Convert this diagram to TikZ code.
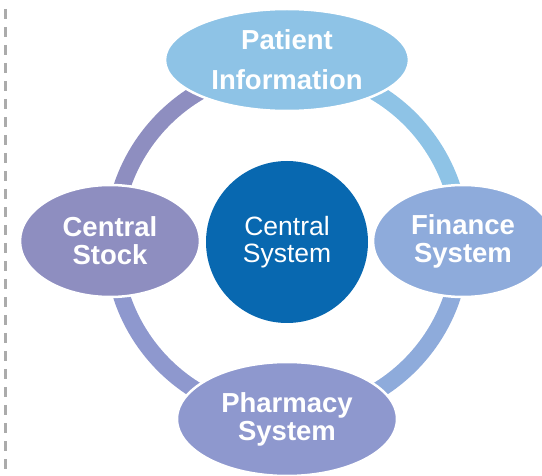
\documentclass[tikz,border=0pt]{standalone}
\usepackage{fontspec}
\setmainfont{Liberation Sans}
\usepackage{tikz}
\usetikzlibrary{shapes.geometric}

\definecolor{hubblue}{HTML}{0868B0}
\definecolor{patientcol}{HTML}{8EC3E6}
\definecolor{financecol}{HTML}{8EABDB}
\definecolor{pharmacycol}{HTML}{8E98CE}
\definecolor{stockcol}{HTML}{8E8EC0}

\begin{document}
\begin{tikzpicture}[x=1pt,y=1pt,hub/.style={circle, fill=hubblue, text=white, inner sep=0pt, minimum size=162pt, align=center, font=\fontsize{26.5}{27}\selectfont},module/.style={ellipse, draw=white, line width=2.5pt, text=white, inner sep=0pt, align=center, font=\fontsize{27.5}{28}\selectfont\bfseries},ringseg/.style={line width=17pt}]
                \useasboundingbox (0,0) rectangle (542,475);
                \clip (0,0) rectangle (542,475);
                \draw[black!33, line width=2.5pt, dash pattern=on 10pt off 8pt] (5.5,466) -- (5.5,0);
                % ring between the modules
                \coordinate (ringtop) at (287,407);
                \coordinate (ringright) at (461,233);
                \coordinate (ringbottom) at (287,59);
                \coordinate (ringleft) at (113,233);
                \draw[ringseg, draw=stockcol] (ringtop) arc[start angle=90, end angle=180, radius=174];
                \draw[ringseg, draw=pharmacycol] (ringleft) arc[start angle=180, end angle=270, radius=174];
                \draw[ringseg, draw=financecol] (ringbottom) arc[start angle=270, end angle=360, radius=174];
                \draw[ringseg, draw=patientcol] (ringright) arc[start angle=0, end angle=90, radius=174];
                \node[hub] (central) at (287,233) {Central\\System};
                \node[module, fill=patientcol, minimum width=244pt, minimum height=102pt] (patient) at (287,415) {Patient\\[12pt]Information};
                \node[module, fill=financecol, minimum width=180pt, minimum height=112pt] (finance) at (463,234) {Finance\\System};
                \node[module, fill=pharmacycol, minimum width=220pt, minimum height=114pt] (pharmacy) at (287,56) {Pharmacy\\System};
                \node[module, fill=stockcol, minimum width=180pt, minimum height=112pt] (stock) at (110,234) {Central\\Stock};
            \end{tikzpicture}
\end{document}
